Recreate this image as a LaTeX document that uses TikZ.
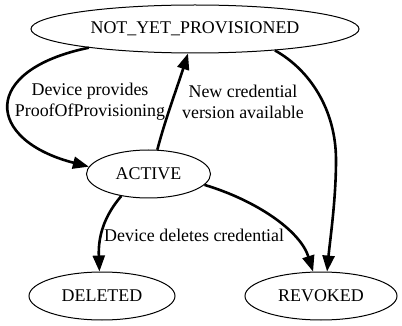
\documentclass[tikz,border=0pt]{standalone}
\usepackage{fontspec}
\setmainfont{Liberation Serif}
\usetikzlibrary{shapes.geometric,arrows.meta}
\begin{document}
\begin{tikzpicture}[x=1pt,y=-1pt,
  state/.style={draw,ellipse,line width=1pt,inner sep=0pt,minimum height=48pt,font=\fontsize{17.9}{21}\selectfont},
  edge/.style={draw,line width=2.6pt,-{Triangle[length=16pt,width=12pt]}},
  lbl/.style={align=center,inner sep=0pt,font=\fontsize{17.9}{21}\selectfont}]
\useasboundingbox (0,0) rectangle (402,326);
\node[state,minimum width=328pt] (nyp) at (195,29) {NOT\_YET\_PROVISIONED};
\node[state,minimum width=124pt] (act) at (148.5,174) {ACTIVE};
\node[state,minimum width=146pt] (del) at (102,296) {DELETED};
\node[state,minimum width=152pt] (rev) at (321,296) {REVOKED};
\draw[edge] (nyp.190) .. controls (-20,70) and (-15,140) .. (act.173);
\draw[edge] (act.70) .. controls (165,120) and (178,85) .. (nyp.254);
\draw[edge] (nyp.345) .. controls (310,70) and (336,110) .. (336,160) .. controls (336,200) and (330,240) .. (rev.76);
\draw[edge] (act.349) .. controls (255,200) and (300,230) .. (rev.108);
\draw[edge] (act.219) .. controls (105,215) and (98,235) .. (del.96);
\node[lbl] (l1) at (90,102) {Device provides\\ProofOfProvisioning};
\node[lbl] (l2) at (243,102) {New credential\\version available};
\node[lbl,anchor=west] (l3) at (104,235) {Device deletes credential};
\end{tikzpicture}
\end{document}
